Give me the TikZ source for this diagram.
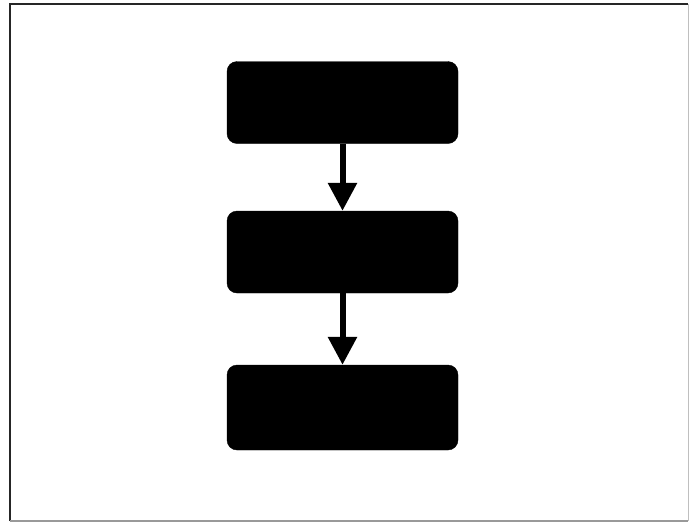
\documentclass[tikz,border=0pt]{standalone}
\usetikzlibrary{arrows.meta}
\begin{document}
\begin{tikzpicture}[x=1pt,y=-1pt,
  blockbox/.style={draw=black,fill=black,rounded corners=10pt,minimum width=231pt,minimum height=82pt,inner sep=0pt},
  flowarrow/.style={line width=6pt,-{Triangle[length=28pt,width=28pt]}}]
\useasboundingbox (0,0) rectangle (691,523);
\fill[white] (0,0) rectangle (691,523);
\draw[line width=1.5pt,black!85] (10,521) -- (10,4) -- (688,4);
\draw[line width=1.5pt,black!40] (10,521) -- (688,521);
\draw[line width=1pt,black!25] (688,4) -- (688,521);
\node[blockbox] (b1) at (342.5,102.5) {};
\node[blockbox,minimum height=82pt] (b2) at (342.5,252) {};
\node[blockbox,minimum height=85pt] (b3) at (342.5,407.5) {};
\draw[flowarrow] (b1.south) -- (b2.north);
\draw[flowarrow] (b2.south) -- (b3.north);
\end{tikzpicture}
\end{document}
